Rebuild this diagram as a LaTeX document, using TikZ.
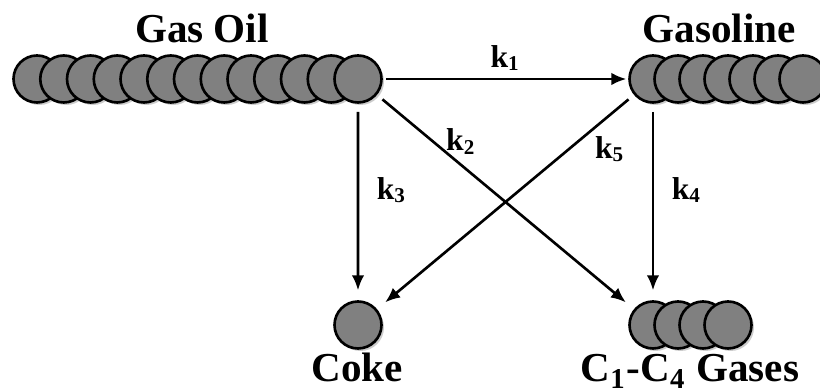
\documentclass[tikz,border=0pt]{standalone}
\usepackage{fontspec}
\setmainfont{Liberation Serif}
\usetikzlibrary{arrows.meta,shadows}

\begin{document}
\begin{tikzpicture}[>={Latex[length=1.5mm,width=1.25mm]}]
        % --- SETTINGS ---
        \def\topY{3.11}
        \def\botY{0.65}
        \tikzset{
            ball/.style={circle, draw=black, line width=0.75pt, fill=black!50,
                minimum size=0.47cm, inner sep=0pt,
                drop shadow={shadow xshift=0.025cm, shadow yshift=-0.025cm, fill=black!20, opacity=1}},
            species/.style={font=\fontsize{11.7}{14}\selectfont\bfseries, anchor=base, inner sep=0pt},
            rate/.style={font=\fontsize{9}{11}\selectfont\bfseries, inner sep=1pt},
            flow/.style={->, line width=0.75pt}
        }
        \useasboundingbox (0,0) rectangle (8.2,3.9);

        % =========================================
        % LUMPS
        % =========================================
        % Gas Oil (13 balls)
        \foreach \i in {1,...,13} {
            \node[ball] (go\i) at ({0.37+0.2675*(\i-1)}, \topY) {};
        }
        % Gasoline (7 balls)
        \foreach \i in {1,...,7} {
            \node[ball] (gl\i) at ({6.53+0.25*(\i-1)}, \topY) {};
        }
        % Coke (1 ball)
        \node[ball] (coke) at (3.58, \botY) {};
        % C1-C4 Gases (4 balls)
        \foreach \i in {1,...,4} {
            \node[ball] (gas\i) at ({6.53+0.25*(\i-1)}, \botY) {};
        }

        % Names
        \node[species] (goname) at (2.02, 3.47) {Gas Oil};
        \node[species] (glname) at (7.19, 3.47) {Gasoline};
        \node[species] (cokename) at (3.57, 0.08) {Coke};
        \node[species] (gasname) at (6.90, 0.08) {C\textsubscript{1}-C\textsubscript{4} Gases};

        % =========================================
        % REACTIONS
        % =========================================
        \draw[flow, shorten <=1pt, shorten >=0.5pt] (go13.east) -- (gl1.west)
            node[rate, midway, above=1pt] {k\textsubscript{1}};
        \draw[flow, shorten <=2pt, shorten >=3pt] (go13) -- (gas1)
            node[rate, pos=0.3, anchor=south, xshift=0.07cm] {k\textsubscript{2}};
        \draw[flow, shorten <=2.3pt, shorten >=2.8pt] (go13.south) -- (coke.north)
            node[rate, pos=0.44, right=4pt] {k\textsubscript{3}};
        \draw[flow, shorten <=2.3pt, shorten >=2.8pt] (gl1.south) -- (gas1.north)
            node[rate, pos=0.44, right=4pt] {k\textsubscript{4}};
        \draw[flow, shorten <=2pt, shorten >=3pt] (gl1) -- (coke)
            node[rate, pos=0.17, anchor=north west] {k\textsubscript{5}};

    \end{tikzpicture}
\end{document}
